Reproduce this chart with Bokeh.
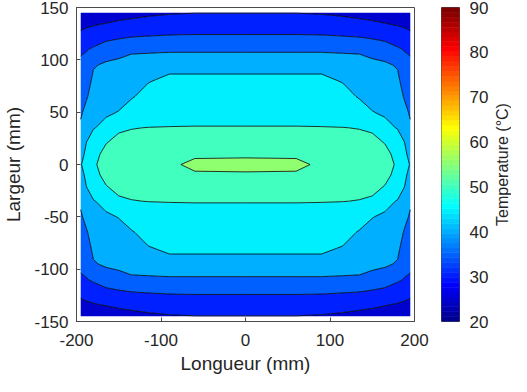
import numpy as np
from bokeh.plotting import figure
from bokeh.models import Range1d, FixedTicker, Title
from bokeh.layouts import row
from bokeh.embed import file_html
from bokeh.resources import INLINE

# ---------------- data ----------------
x_mm = [-195, -188, -180, -165, -150, -135, -115, -90, -60, 0,
        60, 90, 115, 135, 150, 165, 180, 188, 195]
y_mm = [145, 125, 110, 95, 80, 65, 50, 35, 20, 10, 0,
        -10, -20, -35, -50, -65, -80, -95, -110, -125, -145]

# temperature table (°C), rows follow y_mm (top to bottom), columns follow x_mm
temperature = [
    [26.2, 26.63, 26.88, 27.37, 28.03, 28.48, 29.1, 29.63, 29.9, 29.9, 29.9, 29.63, 29.1, 28.48, 28.03, 27.37, 26.88, 26.63, 26.2],
    [30.67, 31.28, 31.88, 32.63, 33.29, 33.8, 34.23, 34.63, 34.76, 34.76, 34.76, 34.63, 34.23, 33.8, 33.29, 32.63, 31.88, 31.28, 30.67],
    [34.4, 34.77, 35.6, 37.5, 38.4, 39.3, 39.3, 39.12, 39.12, 39.12, 39.12, 39.12, 39.3, 39.3, 38.4, 37.5, 35.6, 34.77, 34.4],
    [35.83, 36.46, 39.6, 40.7, 41.1, 41.6, 42.11, 43.8, 43.8, 43.8, 43.8, 43.8, 42.11, 41.6, 41.1, 40.7, 39.6, 36.46, 35.83],
    [37.01, 38.01, 40.98, 41.66, 42.19, 42.92, 44.74, 45.9, 45.9, 45.9, 45.9, 45.9, 44.74, 42.92, 42.19, 41.66, 40.98, 38.01, 37.01],
    [38.18, 39.57, 42.21, 42.96, 43.63, 44.57, 46.58, 47.2, 47.2, 47.2, 47.2, 47.2, 46.58, 44.57, 43.63, 42.96, 42.21, 39.57, 38.18],
    [39.36, 41.42, 43.45, 44.26, 45.15, 47.09, 48.33, 48.63, 48.63, 48.63, 48.63, 48.63, 48.33, 47.09, 45.15, 44.26, 43.45, 41.42, 39.36],
    [40.76, 43.37, 44.69, 46.51, 49.7, 49.91, 50.06, 50.12, 50.17, 50.17, 50.17, 50.12, 50.06, 49.91, 49.7, 46.51, 44.69, 43.37, 40.76],
    [42.45, 45.2, 48.0, 49.98, 50.6, 50.87, 51.35, 51.93, 52.67, 52.75, 52.67, 51.93, 51.35, 50.87, 50.6, 49.98, 48.0, 45.2, 42.45],
    [43.58, 46.0, 49.5, 50.45, 50.88, 51.47, 52.22, 53.13, 54.4, 54.3, 54.4, 53.13, 52.22, 51.47, 50.88, 50.45, 49.5, 46.0, 43.58],
    [44.7, 46.8, 49.78, 50.6, 51.3, 52.07, 53.08, 54.34, 55.8, 56.2, 55.8, 54.34, 53.08, 52.07, 51.3, 50.6, 49.78, 46.8, 44.7],
    [43.58, 46.0, 49.5, 50.45, 50.88, 51.47, 52.22, 53.13, 54.55, 54.5, 54.55, 53.13, 52.22, 51.47, 50.88, 50.45, 49.5, 46.0, 43.58],
    [42.45, 45.2, 48.0, 49.98, 50.6, 50.87, 51.35, 51.93, 52.67, 52.75, 52.67, 51.93, 51.35, 50.87, 50.6, 49.98, 48.0, 45.2, 42.45],
    [40.76, 43.37, 44.69, 46.51, 49.7, 49.91, 50.06, 50.12, 50.17, 50.17, 50.17, 50.12, 50.06, 49.91, 49.7, 46.51, 44.69, 43.37, 40.76],
    [39.36, 41.42, 43.45, 44.26, 45.15, 47.09, 48.33, 48.63, 48.63, 48.63, 48.63, 48.63, 48.33, 47.09, 45.15, 44.26, 43.45, 41.42, 39.36],
    [38.18, 39.57, 42.21, 42.96, 43.63, 44.57, 46.58, 47.2, 47.2, 47.2, 47.2, 47.2, 46.58, 44.57, 43.63, 42.96, 42.21, 39.57, 38.18],
    [37.01, 38.01, 40.98, 41.66, 42.19, 42.92, 44.74, 45.7, 45.7, 45.7, 45.7, 45.7, 44.74, 42.92, 42.19, 41.66, 40.98, 38.01, 37.01],
    [35.83, 36.46, 39.6, 40.7, 41.1, 41.6, 42.11, 43.8, 43.8, 43.8, 43.8, 43.8, 42.11, 41.6, 41.1, 40.7, 39.6, 36.46, 35.83],
    [34.4, 34.77, 35.6, 37.5, 38.4, 39.3, 39.3, 39.12, 39.12, 39.12, 39.12, 39.12, 39.3, 39.3, 38.4, 37.5, 35.6, 34.77, 34.4],
    [30.67, 31.28, 31.88, 32.63, 33.29, 33.8, 34.23, 34.63, 34.76, 34.76, 34.76, 34.63, 34.23, 33.8, 33.29, 32.63, 31.88, 31.28, 30.67],
    [26.2, 26.63, 26.88, 27.37, 28.03, 28.48, 29.1, 29.63, 29.9, 29.9, 29.9, 29.63, 29.1, 28.48, 28.03, 27.37, 26.88, 26.63, 26.2],
]

levels = [25, 30, 35, 40, 45, 50, 55, 60]

x_ticks = [-200, -100, 0, 100, 200]
x_tick_labels = ["-200", "-100", "0", "100", "200"]
y_ticks = [-150, -100, -50, 0, 50, 100, 150]
y_tick_labels = ["-150", "-100", "-50", "0", "50", "100", "150"]
cbar_ticks = [20, 30, 40, 50, 60, 70, 80, 90]
cbar_tick_labels = ["20", "30", "40", "50", "60", "70", "80", "90"]
cbar_low, cbar_high = 20, 90

x_label = "Longueur (mm)"
y_label = "Largeur (mm)"
cbar_label = "Temperature (°C)"

# ---------------- colormap (MATLAB jet, 64 entries) ----------------
def jet64():
    out = []
    for k in range(1, 65):
        if k <= 8:
            r, g, b = 0.0, 0.0, 0.5 + 0.0625 * k
        elif k <= 24:
            r, g, b = 0.0, 0.0625 * (k - 8), 1.0
        elif k <= 40:
            r, g, b = 0.0625 * (k - 24), 1.0, 1.0 - 0.0625 * (k - 24)
        elif k <= 56:
            r, g, b = 1.0, 1.0 - 0.0625 * (k - 40), 0.0
        else:
            r, g, b = 1.0 - 0.0625 * (k - 56), 0.0, 0.0
        out.append("#%02x%02x%02x" % tuple(int(round(c * 255)) for c in (r, g, b)))
    return out

jet = jet64()
band_colors = [jet[min(63, int((L - cbar_low) / (cbar_high - cbar_low) * 64))] for L in levels[:-1]]

FONT = "Liberation Sans"
TXT = "#262626"
AX = "#4a4a4a"

# ---------------- main contour plot ----------------
p = figure(width=433, height=376, title=None,
           x_range=Range1d(-200, 200), y_range=Range1d(-150, 150),
           min_border_left=73, min_border_right=19, min_border_top=7, min_border_bottom=55,
           output_backend="svg", toolbar_location=None)
p.xgrid.visible = False
p.ygrid.visible = False
p.outline_line_color = AX
p.outline_line_width = 1
p.background_fill_color = "white"

z = np.array(temperature, dtype=float)[::-1]
yy = np.array(y_mm, dtype=float)[::-1]
xx = np.array(x_mm, dtype=float)
p.contour(x=xx, y=yy, z=z, levels=levels, fill_color=band_colors,
          line_color="black", line_width=0.8)

xb = p.below[0]
yl = p.left[0]
for ax, ticks, labels in ((xb, x_ticks, x_tick_labels), (yl, y_ticks, y_tick_labels)):
    ax.ticker = FixedTicker(ticks=ticks)
    ax.major_label_overrides = {t: s for t, s in zip(ticks, labels)}
    ax.major_tick_in = 4
    ax.major_tick_out = 0
    ax.minor_tick_line_color = None
    ax.major_tick_line_color = AX
    ax.axis_line_color = AX
    ax.major_label_text_font = FONT
    ax.major_label_text_font_size = "17px"
    ax.major_label_text_color = TXT
    ax.axis_label_text_font = FONT
    ax.axis_label_text_font_size = "19px"
    ax.axis_label_text_font_style = "normal"
    ax.axis_label_text_color = TXT

xb.axis_label = x_label
xb.major_label_standoff = 12
xb.axis_label_standoff = 4
yl.axis_label = y_label
yl.major_label_standoff = 8
yl.axis_label_standoff = 7

# ---------------- colorbar ----------------
cb = figure(width=58, height=376, title=None,
            x_range=Range1d(0, 1), y_range=Range1d(cbar_low, cbar_high),
            x_axis_location=None, y_axis_location="right",
            min_border_left=8, min_border_right=23, min_border_top=5, min_border_bottom=55,
            output_backend="svg", toolbar_location=None)
cb.xgrid.visible = False
cb.ygrid.visible = False
cb.outline_line_color = AX
edges = np.linspace(cbar_low, cbar_high, len(jet) + 1)
cb.quad(left=0, right=1, bottom=edges[:-1], top=edges[1:],
        fill_color=jet, line_color=jet, line_width=0.6)
ca = cb.right[0]
ca.ticker = FixedTicker(ticks=cbar_ticks)
ca.major_label_overrides = {t: s for t, s in zip(cbar_ticks, cbar_tick_labels)}
ca.major_tick_line_color = None
ca.minor_tick_line_color = None
ca.axis_line_color = None
ca.major_label_standoff = 4
ca.major_label_text_font = FONT
ca.major_label_text_font_size = "17px"
ca.major_label_text_color = TXT

# colorbar title: a left-side title of a narrow strip, so it reads bottom-to-top
ct = figure(width=20, height=376, title=None,
            x_range=Range1d(0, 1), y_range=Range1d(cbar_low, cbar_high),
            x_axis_location=None, y_axis_location=None,
            min_border_left=0, min_border_right=0, min_border_top=5, min_border_bottom=55,
            output_backend="svg", toolbar_location=None)
ct.xgrid.visible = False
ct.ygrid.visible = False
ct.outline_line_color = None
ct.add_layout(Title(text=cbar_label, align="center", standoff=0, offset=0,
                    text_font=FONT, text_font_size="16px", text_font_style="normal",
                    text_color=TXT), "left")

layout = row(p, cb, ct)
open("out.html", "w").write(file_html(layout, INLINE))
